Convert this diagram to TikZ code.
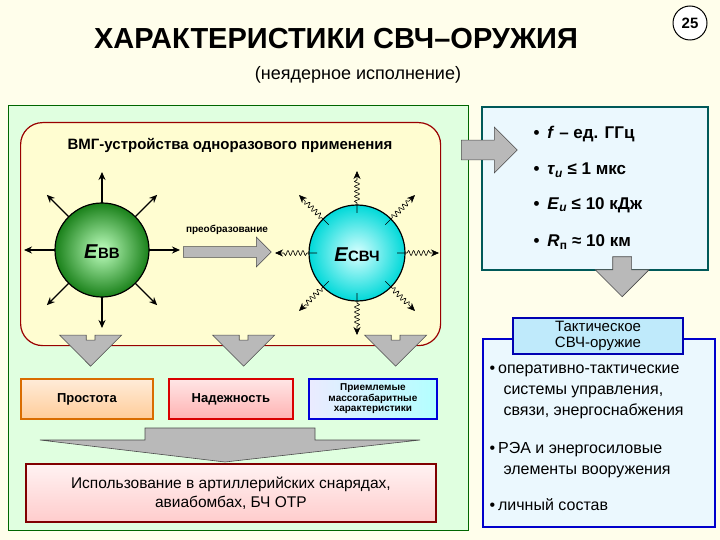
\documentclass[tikz,border=0pt]{standalone}
\usepackage{fontspec}
\setmainfont{Liberation Sans}
\usetikzlibrary{shapes.arrows,decorations.pathmorphing,arrows.meta}
\begin{document}
\begin{tikzpicture}[x=1pt,y=-1pt,
  txt/.style={font=\bfseries, text=black},
  gray arrow/.style={fill=gray!55, draw=black!70, line width=0.6pt},
  rad/.style={-{Stealth[length=8pt,width=7pt]}, line width=1.2pt},
  wav/.style={-{Stealth[length=8pt,width=7pt]}, line width=0.6pt, decorate, decoration={snake, amplitude=2.5pt, segment length=5pt, pre length=10pt, post length=8pt}},
  bul/.style={txt, anchor=west, font=\bfseries\fontsize{17}{19}\selectfont}]
\useasboundingbox (0,0) rectangle (720,540);
\fill[yellow!8] (0,0) rectangle (720,540);
% title
\node[txt, font=\bfseries\fontsize{29}{32}\selectfont] (title) at (336,39) {ХАРАКТЕРИСТИКИ СВЧ–ОРУЖИЯ};
\node[circle, draw=black, line width=1pt, fill=white, minimum size=34pt, inner sep=0pt, font=\bfseries\fontsize{15}{17}\selectfont] (num) at (690,23) {25};
\node[font=\fontsize{18}{20}\selectfont] (sub) at (358,75) {(неядерное исполнение)};
% left panel
\node[draw=green!40!black, line width=1.2pt, fill=green!12, minimum width=460pt, minimum height=425pt, anchor=north west] (lp) at (8,105) {};
\node[draw=red!60!black, line width=1.2pt, fill=yellow!18, rounded corners=22pt, minimum width=420pt, minimum height=223pt, anchor=north west] (inner) at (20,122) {};
\node[txt, font=\bfseries\fontsize{15}{17}\selectfont] (ihead) at (230,145) {ВМГ-устройства одноразового применения};
% spheres
\shade[inner color=green!25!white, outer color=green!45!black!90] (102,250) circle (47);
\draw[line width=1.2pt] (102,250) circle (47);
\node[font=\bfseries\fontsize{20}{22}\selectfont] (ebb) at (102,252) {\textit{E}\fontsize{15}{17}\selectfont ВВ};
\foreach \a in {0,45,...,315}{
  \draw[rad] ({102+47*cos(\a)},{250-47*sin(\a)}) -- ({102+78*cos(\a)},{250-78*sin(\a)});}
\shade[inner color=cyan!15!white, outer color=cyan!70!teal] (357,253) circle (48);
\draw[line width=1.2pt] (357,253) circle (48);
\node[font=\bfseries\fontsize{20}{22}\selectfont] (esv) at (357,255) {\textit{E}\fontsize{15}{17}\selectfont СВЧ};
\foreach \a in {0,45,...,315}{
  \draw[wav] ({357+40*cos(\a)},{253-40*sin(\a)}) -- ({357+82*cos(\a)},{253-82*sin(\a)});}
\node[single arrow, gray arrow, minimum height=88pt, minimum width=30pt, single arrow head extend=6pt, inner sep=3pt, anchor=west] (conv) at (183,252) {};
\node[txt, font=\bfseries\fontsize{10}{12}\selectfont] (convl) at (227,230) {преобразование};
% right top panel
\node[draw=teal!70!black, line width=2pt, fill=cyan!8, minimum width=226pt, minimum height=163pt, anchor=north west] (rp) at (481,106) {};
\node[single arrow, gray arrow, minimum height=56pt, minimum width=46pt, single arrow head extend=7pt, inner sep=5pt, anchor=west] (ra) at (461,150) {};
\node[bul] (b1) at (530,134) {•\hspace{8pt}\textit{f} – ед. ГГц};
\node[bul] (b2) at (530,170) {•\hspace{8pt}\textit{τ}\textsubscript{\textit{и}} ≤ 1 мкс};
\node[bul] (b3) at (530,205) {•\hspace{8pt}\textit{E}\textsubscript{\textit{и}} ≤ 10 кДж};
\node[bul] (b4) at (530,242) {•\hspace{8pt}\textit{R}\textsubscript{п} ≈ 10 км};
\node[single arrow, shape border rotate=270, gray arrow, minimum height=40pt, minimum width=54pt, single arrow head extend=8pt, inner sep=4pt, anchor=west] (da) at (597,272) {};
% right bottom panel
\node[draw=blue!80!black, line width=2pt, fill=cyan!8, minimum width=232pt, minimum height=188pt, anchor=north west] (bp) at (482,338) {};
\node[draw=blue!70!black, line width=2pt, fill=cyan!25, minimum width=170pt, minimum height=36pt, anchor=north west] (tact) at (512,317) {};
\node[align=center, font=\fontsize{15}{16}\selectfont] (tactl) at (tact.center) {Тактическое\\СВЧ-оружие};
\node[anchor=west, font=\fontsize{16}{21}\selectfont, align=left] (c1) at (486,392) {•\hspace{3pt}оперативно-тактические\\\hspace{14pt}системы управления,\\\hspace{14pt}связи, энергоснабжения};
\node[anchor=west, font=\fontsize{16}{21}\selectfont, align=left] (c2) at (486,460) {•\hspace{3pt}РЭА и энергосиловые\\\hspace{14pt}элементы вооружения};
\node[anchor=west, font=\fontsize{16}{21}\selectfont] (c3) at (486,505) {•\hspace{3pt}личный состав};
% bottom small arrows
\foreach \x/\n in {75/s1,228/s2,380/s3}{
  \node[single arrow, shape border rotate=270, gray arrow, minimum height=26pt, minimum width=62pt, single arrow head extend=20pt, inner sep=3pt, anchor=west] (\n) at (\x,351) {};}
\node[draw=orange!85!black, line width=1.8pt, top color=orange!15, bottom color=orange!40, minimum width=132pt, minimum height=40pt, anchor=north west] (p1) at (20,378) {};
\node[txt, font=\bfseries\fontsize{13}{15}\selectfont] at (p1.center) {Простота};
\node[draw=red!85!black, line width=1.8pt, top color=red!10, bottom color=red!30, minimum width=124pt, minimum height=40pt, anchor=north west] (p2) at (168,378) {};
\node[txt, font=\bfseries\fontsize{13}{15}\selectfont] at (p2.center) {Надежность};
\node[draw=blue!85!black, line width=1.8pt, left color=blue!8, right color=cyan!30, minimum width=128pt, minimum height=40pt, anchor=north west] (p3) at (308,378) {};
\node[txt, align=center, font=\bfseries\fontsize{10}{10.5}\selectfont] at (p3.center) {Приемлемые\\массогабаритные\\характеристики};
% big chevron
\filldraw[gray arrow] (145,428) -- (315,428) -- (315,440) -- (420,440) -- (225,462) -- (40,440) -- (145,440) -- cycle;
\node[draw=red!50!black, line width=1.8pt, top color=red!5, bottom color=red!20, minimum width=410pt, minimum height=58pt, anchor=north west] (use) at (25,463) {};
\node[align=center, font=\fontsize{15.5}{19}\selectfont] at (use.center) {Использование в артиллерийских снарядах,\\авиабомбах, БЧ ОТР};
\end{tikzpicture}
\end{document}
